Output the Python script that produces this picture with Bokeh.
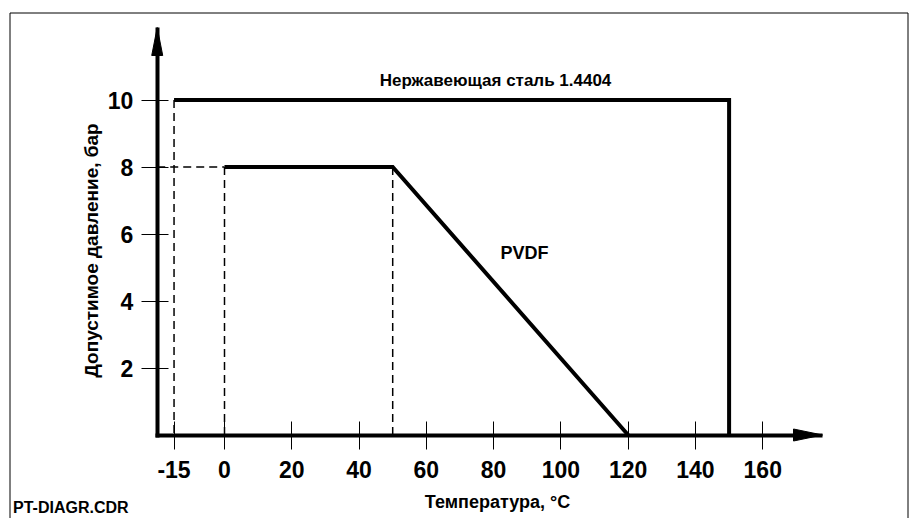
import math
from bokeh.plotting import figure
from bokeh.models import Range1d, FixedTicker, LinearAxis, Label
from bokeh.embed import file_html
from bokeh.resources import INLINE

# ---- data -------------------------------------------------------------
temp_ticks = [-15, 0, 20, 40, 60, 80, 100, 120, 140, 160]
pres_ticks = [2, 4, 6, 8, 10]

steel_temp = [-15, 150, 150]
steel_pres = [10, 10, 0]
pvdf_temp = [0, 50, 120]
pvdf_pres = [8, 8, 0]

steel_name = "Нержавеющая сталь 1.4404"
pvdf_name = "PVDF"
x_title = "Температура, °C"
y_title = "Допустимое давление, бар"
footer = "PT-DIAGR.CDR"

# ---- layout (page pixels) ----------------------------------------------
FONT = "Liberation Sans"
W, H = 909, 518
FRAME_L, FRAME_T, FRAME_R, FRAME_B = 0, 0, W, H
X0_PX, PX_X = 224.0, 3.364      # page x of 0 °C, pixels per °C
Y0_PX, PX_Y = 434.5, 33.5       # page y of 0 bar, pixels per bar
BORDER_L, BORDER_T, BORDER_R = 9.5, 12.5, 907.5


def xv(px):
    return (px - X0_PX) / PX_X


def yv(py):
    return (Y0_PX - py) / PX_Y


AX_X = -20                 # where the pressure axis crosses
AX_Y = 0                   # where the temperature axis crosses
X_END = xv(822)            # arrow tip of temperature axis
Y_END = yv(27)             # arrow tip of pressure axis

p = figure(width=W, height=H, output_backend="svg", toolbar_location=None,
           x_range=Range1d(xv(FRAME_L), xv(FRAME_R)),
           y_range=Range1d(yv(FRAME_B), yv(FRAME_T)),
           x_axis_type=None, y_axis_type=None, min_border=0)
p.outline_line_color = None
p.background_fill_color = "white"
p.border_fill_color = "white"

# outer drawing border (open at the bottom, as in the cropped original)
p.line([xv(BORDER_L), xv(BORDER_L), xv(BORDER_R), xv(BORDER_R)],
       [yv(FRAME_B), yv(BORDER_T), yv(BORDER_T), yv(FRAME_B)],
       line_color="black", line_width=1)

xaxis = LinearAxis(fixed_location=AX_Y, bounds=(AX_X - 2 / PX_X, X_END),
                   ticker=FixedTicker(ticks=temp_ticks),
                   major_label_overrides={t: str(t) for t in temp_ticks})
yaxis = LinearAxis(fixed_location=AX_X, bounds=(AX_Y - 2 / PX_Y, Y_END),
                   ticker=FixedTicker(ticks=pres_ticks))
for ax in (xaxis, yaxis):
    ax.axis_line_width = 4
    ax.axis_line_color = "black"
    ax.major_tick_line_color = "black"
    ax.major_tick_line_width = 1
    ax.minor_tick_line_color = None
    ax.major_label_text_font = FONT
    ax.major_label_text_font_style = "bold"
    ax.major_label_text_font_size = "23px"
    ax.major_label_text_color = "black"
xaxis.major_tick_in = 14
xaxis.major_tick_out = 14
xaxis.major_label_standoff = 12
yaxis.major_tick_in = 11
yaxis.major_tick_out = 16
yaxis.major_label_standoff = 8
p.add_layout(xaxis, "below")
p.add_layout(yaxis, "left")

# arrow heads
hx_len, hx_half = 29 / PX_X, 6 / PX_Y
hy_len, hy_half = 28 / PX_Y, 5.5 / PX_X
p.patches(xs=[[X_END, X_END - hx_len, X_END - hx_len],
              [AX_X, AX_X - hy_half, AX_X + hy_half]],
          ys=[[AX_Y, AX_Y + hx_half, AX_Y - hx_half],
              [Y_END, Y_END - hy_len, Y_END - hy_len]],
          fill_color="black", line_color="black", line_width=1)

# dashed guide lines
guide_xs = [[steel_temp[0], steel_temp[0]],
            [AX_X, pvdf_temp[0]],
            [pvdf_temp[0], pvdf_temp[0]],
            [pvdf_temp[1], pvdf_temp[1]]]
guide_ys = [[steel_pres[0], AX_Y],
            [pvdf_pres[0], pvdf_pres[0]],
            [pvdf_pres[0], AX_Y],
            [pvdf_pres[1], AX_Y]]
p.multi_line(xs=guide_xs, ys=guide_ys, line_color="black", line_width=1.5,
             line_dash="8 5")

# limit curves
p.line(steel_temp, steel_pres, line_color="black", line_width=4, line_join="miter")
p.line(pvdf_temp, pvdf_pres, line_color="black", line_width=4, line_join="miter")


def label(text, px, py, size, align="center", baseline="alphabetic", angle=0.0):
    p.add_layout(Label(x=xv(px), y=yv(py), text=text, text_align=align,
                       text_baseline=baseline, angle=angle, text_font=FONT,
                       text_font_style="bold", text_font_size=size,
                       text_color="black"))


label(steel_name, 495, 79.5, "17px")
label(pvdf_name, 524, 252, "18px")
label(x_title, 497, 501.5, "18px")
label(y_title, 91, 250, "19px", baseline="middle", angle=math.pi / 2)
label(footer, 12.5, 506.5, "16px", align="left")

open("out.html", "w").write(file_html(p, INLINE))
